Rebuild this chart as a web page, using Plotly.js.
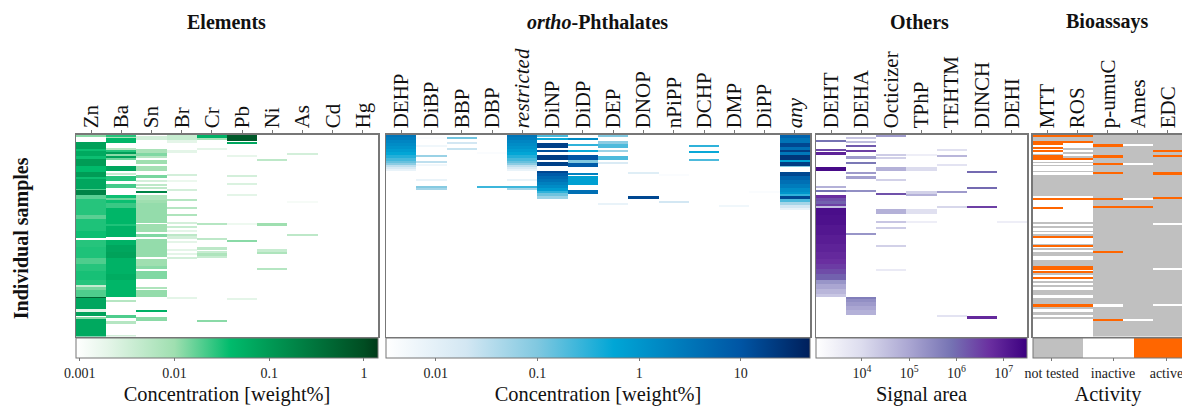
<!DOCTYPE html>
<html><head><meta charset="utf-8">
<script src="https://cdn.plot.ly/plotly-3.0.1.min.js"></script>
<style>html,body{margin:0;padding:0;background:#fff;overflow:hidden;width:1182px;height:407px}
#c{width:1200px;height:407px}
.hm image{filter:blur(.4px)}</style></head>
<body><div id="c"></div>
<script>
const ROWS = 203;
// every run: [first sample row, end row]
const elementNames = ['Zn','Ba','Sn','Br','Cr','Pb','Ni','As','Cd','Hg'];
const Zn = [[0,2,.012],[7,14,.085],[14,16,.035],[16,21,.065],[21,24,.035],[24,31,.095],[31,37,.04],[37,42,.095],[42,44,.035],[44,54,.07],[54,55,.02],[55,60,.2],[60,64,.018],[64,80,.028],[80,84,.018],[84,96,.03],[96,104,.035],[106,113,.028],[113,124,.03],[124,130,.02],[130,137,.028],[137,146,.032],[146,151,.028],[151,153,.004],[153,156,.014],[156,163,.02],[163,164,.5],[164,175,.07],[175,178,.002],[178,182,.08],[183,185,.012],[185,203,.065]];
const Ba = [[0,2,.028],[2,3,.008],[3,8,.045],[13,15,.006],[15,17,.028],[17,19,.09],[19,21,.012],[21,23,.08],[23,25,.015],[31,36,.07],[38,40,.004],[41,46,.028],[49,53,.022],[60,63,.035],[63,65,.015],[65,68,.035],[68,73,.024],[73,89,.045],[89,91,.03],[91,103,.05],[106,111,.05],[111,118,.07],[118,124,.08],[124,140,.05],[140,146,.06],[146,163,.045],[166,168,.006],[181,184,.02],[187,190,.006],[201,203,.003]];
const Sn = [[1,5,.003],[14,18,.008],[18,21,.013],[21,23,.006],[25,29,.01],[31,36,.009],[40,43,.014],[45,47,.003],[49,51,.005],[52,54,.005],[56,58,.2],[60,65,.007],[65,68,.01],[68,88,.011],[89,97,.01],[99,103,.013],[105,123,.011],[125,132,.01],[132,135,.012],[137,145,.013],[153,155,.007],[156,163,.011],[176,178,.05],[183,187,.012]];
const Br = [[0,5,.004],[5,8,.002],[15,18,.002],[39,41,.003],[45,47,.0016],[54,56,.003],[64,66,.006],[72,74,.006],[79,81,.007],[87,89,.003],[91,93,.004],[95,97,.002],[99,102,.005],[102,105,.003],[107,109,.002],[115,117,.002],[119,121,.002],[123,125,.003],[163,165,.002]];
const Cr = [[0,3,.05],[3,5,.008],[13,15,.002],[88,90,.006],[104,106,.005],[113,116,.005],[117,119,.004],[119,122,.007],[122,124,.004],[186,188,.012]];
const Pb = [[0,6,.7],[7,9,.07],[20,22,.0018],[40,42,.003],[48,50,.0025],[59,61,.002],[88,90,.0015],[106,108,.012],[164,166,.002]];
const Ni = [[24,26,.005],[88,91,.01],[115,118,.004],[118,120,.007],[134,136,.006]];
const As = [[18,20,.003],[66,68,.0012],[99,101,.005]];
const Cd = [];
const Hg = [];

const phthalateNames = ['DEHP','DiBP','BBP','DBP','<i>restricted</i>','DiNP','DiDP','DEP','DNOP','nPiPP','DCHP','DMP','DiPP','<i>any</i>'];
const DEHP = [[0,2,3.2],[2,5,2.4],[5,8,1.8],[8,11,1.4],[11,14,1.1],[14,17,.8],[17,20,.55],[20,23,.35],[23,26,.22],[26,28,.14],[28,30,.08],[30,32,.03],[32,34,.016],[34,36,.008]];
const DiBP = [[2,4,.004],[10,12,.006],[20,22,.06],[26,28,.03],[29,31,.006],[44,46,.008],[51,53,.09],[53,55,.05]];
const BBP = [[2,4,.12],[7,9,.02],[13,15,.025]];
const DBP = [[17,19,.004],[51,53,.25]];
const restricted = [[0,2,3.2],[2,5,2.4],[5,8,1.8],[8,11,1.4],[11,14,1.1],[14,17,.8],[17,20,.55],[20,23,.35],[23,26,.22],[26,28,.14],[28,30,.08],[30,32,.03],[32,34,.016],[34,36,.008],[44,46,.008],[51,53,.25],[53,55,.05]];
const DiNP = [[0,2,.2],[3,5,.5],[8,13,18],[15,17,12],[20,25,20],[27,31,18],[36,38,15],[38,41,8],[41,44,5],[44,47,3.5],[47,50,2.2],[50,53,1.4],[53,56,.8],[56,58,.3],[58,61,.13],[61,64,.06]];
const DiDP = [[3,5,1.5],[9,11,.3],[15,17,.5],[20,25,10],[25,28,.1],[28,32,8],[38,40,2],[41,50,.7],[55,59,4]];
const DEP = [[0,2,.1],[6,9,.08],[9,13,.2],[15,17,.06],[21,25,.2],[27,29,.015],[68,70,.008]];
const DNOP = [[37,39,.012],[61,64,15],[71,73,.003]];
const nPiPP = [[39,41,.004],[66,68,.02],[72,74,.002]];
const DCHP = [[10,12,.3],[16,18,.5],[24,26,.2]];
const DMP = [[70,72,.006]];
const DiPP = [[56,58,.004]];
const any = [[0,3,6],[3,8,3.5],[8,12,15],[12,15,4],[15,17,20],[17,20,3],[20,25,25],[25,27,.6],[27,31,20],[31,32,.1],[37,41,15],[41,45,6],[45,49,4],[49,53,2.5],[53,57,1.4],[57,59,1],[59,61,.3],[61,64,15],[64,67,.2],[67,70,.05],[70,73,.02],[73,75,.008]];

const otherNames = ['DEHT','DEHA','Octicizer','TPhP','TEHTM','DINCH','DEHI'];
// log10 of the signal area
const DEHT = [[5,7,5.9],[14,16,6.4],[17,20,6.9],[32,36,7.3],[51,53,4.8],[55,57,5.9],[60,63,6.7],[63,66,6.3],[66,69,6.1],[69,71,6.5],[71,73,4.5],[73,80,7.25],[80,90,7.2],[90,100,7.1],[100,110,7],[110,118,6.9],[118,125,6.8],[125,130,6.7],[130,135,6.55],[135,140,6.35],[140,146,6.1],[146,150,5.3],[150,155,5],[155,160,4.7],[160,163,4.4]];
const DEHA = [[2,4,4.4],[6,8,4.6],[10,12,6.2],[15,17,6.5],[21,24,5.2],[27,29,5.8],[37,39,5.2],[41,44,5.1],[55,57,5.4],[98,100,5.3],[163,165,5.7],[165,168,5.4],[168,172,5.2],[172,176,5.0],[176,181,4.8]];
const Octicizer = [[0,2,5.2],[19,21,4.3],[22,24,4.2],[32,36,4.8],[44,46,4.2],[58,60,6.3],[74,79,4.8],[86,88,4.4],[92,94,4.3],[111,113,4.2],[135,137,3.6]];
const TPhP = [[19,21,3.5],[32,36,4.0],[56,59,4.2],[59,61,4.8],[74,79,3.9],[86,88,3.5]];
const TEHTM = [[14,16,3.9],[20,22,4.7],[29,31,3.8],[56,58,5.2],[71,73,4.1],[181,183,3.8]];
const DINCH = [[36,38,6],[52,54,6],[71,73,6.5],[182,185,6.8]];
const DEHI = [[86,88,3.5]];

const assayNames = ['MTT','ROS','p-umuC','Ames','EDC'];
// 0 not tested, 1 inactive, 2 active; rows not listed are 0
const stripes = [[63,65,2],[65,72,1],[74,87,1],[89,91,1],[93,96,1],[97,99,1],[102,104,2],[104,110,1],[111,113,2],[113,114,1],[116,118,1],[122,126,1],[132,136,2],[136,137,1],[137,139,2],[141,143,1],[143,145,2],[145,147,1],[149,151,1],[153,156,1],[161,164,1],[170,173,2],[175,178,1],[181,183,1],[185,203,1]];
const MTT = [[0,2,2],[6,8,2],[8,10,2],[10,12,1],[12,14,2],[14,15,1],[15,17,2],[17,19,1],[20,23,2],[23,25,2],[25,27,1],[28,30,1],[31,36,1],[37,40,1],[61,63,1],[72,74,2]].concat(stripes);
const ROS = [[0,2,2],[6,8,2],[8,13,1],[15,17,1],[19,21,1],[23,25,2],[25,27,1],[28,30,1],[31,36,1],[37,40,1],[61,63,1],[72,74,1]].concat(stripes);
const pumuC = [[9,12,2],[20,23,2],[28,30,2],[37,39,2],[63,65,2],[71,73,2],[117,119,2],[170,173,1],[185,187,2]];
const Ames = [[9,11,1],[28,30,1],[63,65,1],[71,73,2],[185,187,1]];
const EDC = [[15,17,2],[20,22,2],[37,40,2],[62,64,2],[88,90,1],[134,136,1],[170,172,1]];

// colour scales: [value, colour]
const greenStops = [[-3.04,'#ffffff'],[-2.7,'#e4f5e8'],[-2,'#9fdfb0'],[-1.41,'#00bb6c'],[-1,'#009a55'],[0,'#004d22'],[0.148,'#003a18']];
const blueStops = [[-2.49,'#ffffff'],[-1.7,'#d3e7f3'],[-1,'#80c8e0'],[-0.25,'#00a6d6'],[1,'#0055a4'],[1.68,'#001f5b']];
const purpleStops = [[3.03,'#ffffff'],[4,'#dcdcee'],[5,'#aaa6d2'],[5.9,'#7572b3'],[6.7,'#6a2fa0'],[7.49,'#3c0080']];
const assayStops = [[-.5,'#c0c0c0'],[.5,'#c0c0c0'],[.5,'#ffffff'],[1.5,'#ffffff'],[1.5,'#ff6600'],[2.5,'#ff6600']];

const lineC = '#777777';
const serif = '"Liberation Serif","Times New Roman",serif';
const W = 1200, H = 407;
function grid(cols, f, blank){
  const z = [];
  for(let r=0;r<ROWS;r++) z.push(cols.map(()=>blank));
  cols.forEach((runs,c)=>runs.forEach(([a,b,v])=>{for(let r=a;r<b&&r<ROWS;r++) z[r][c]=f(v);}));
  return z;
}
function scale(st){const a=st[0][0],b=st[st.length-1][0];return st.map(([v,c])=>[(v-a)/(b-a),c]);}
const panels = [
 {names:elementNames,cols:[Zn,Ba,Sn,Br,Cr,Pb,Ni,As,Cd,Hg],f:Math.log10,stops:greenStops,x0:76,x1:378,blank:null,
  cb:{tickvals:[-3,-2,-1,0],ticktext:['0.001','0.01','0.1','1'],title:'Concentration [weight%]'}},
 {names:phthalateNames,cols:[DEHP,DiBP,BBP,DBP,restricted,DiNP,DiDP,DEP,DNOP,nPiPP,DCHP,DMP,DiPP,any],f:Math.log10,stops:blueStops,x0:386,x1:810,blank:null,
  cb:{tickvals:[-2,-1,0,1],ticktext:['0.01','0.1','1','10'],title:'Concentration [weight%]'}},
 {names:otherNames,cols:[DEHT,DEHA,Octicizer,TPhP,TEHTM,DINCH,DEHI],f:v=>v,stops:purpleStops,x0:816,x1:1027,blank:null,
  cb:{tickvals:[4,5,6,7],ticktext:['10<sup>4</sup>','10<sup>5</sup>','10<sup>6</sup>','10<sup>7</sup>'],title:'Signal area'}},
 {names:assayNames,cols:[MTT,ROS,pumuC,Ames,EDC],f:v=>v,stops:assayStops,x0:1032.5,x1:1183,blank:0,
  cb:{tickvals:[-.12,1.1,2.16],ticktext:['not tested','inactive','active'],title:'Activity'}}
];
const traces=[], layout={width:W,height:H,margin:{l:0,r:0,t:0,b:0},paper_bgcolor:'#fff',plot_bgcolor:'#fff',
  font:{family:serif,color:'#111'},showlegend:false,annotations:[]};
panels.forEach((p,i)=>{
  const n=i?String(i+1):'';
  const st=p.stops;
  traces.push({type:'heatmap',xaxis:'x'+n,yaxis:'y'+n,z:grid(p.cols,p.f,p.blank),
    x:p.names.map((_,k)=>k),y:Array.from({length:ROWS},(_,k)=>k),
    zmin:st[0][0],zmax:st[st.length-1][0],colorscale:scale(st),hoverinfo:'skip',
    colorbar:{orientation:'h',x:p.x0/W,xanchor:'left',y:1-341/H,yanchor:'top',lenmode:'pixels',len:p.x1-p.x0,
      thicknessmode:'pixels',thickness:20,xpad:0,ypad:0,outlinecolor:lineC,outlinewidth:1,
      tickmode:'array',tickvals:p.cb.tickvals,ticktext:p.cb.ticktext,ticks:'outside',ticklen:3,tickcolor:lineC,
      tickfont:{family:serif,size:14,color:'#222'},
      title:{text:p.cb.title,side:'bottom',font:{family:serif,size:20.4,color:'#111'}}}});
  layout['xaxis'+n]={domain:[p.x0/W,p.x1/W],anchor:'y'+n,side:'top',range:[-.5,p.names.length-.5],
    tickmode:'array',tickvals:p.names.map((_,k)=>k),ticktext:p.names,tickangle:-90,ticks:'outside',ticklen:3,
    ticklabelstandoff:-2,
    tickcolor:lineC,tickfont:{family:serif,size:21,color:'#111'},showgrid:false,zeroline:false,
    showline:true,linecolor:lineC,linewidth:1.5,mirror:'allticks',fixedrange:true};
  layout['yaxis'+n]={domain:[1-339/H,1-136/H],anchor:'x'+n,range:[ROWS-.5,-.5],showticklabels:false,ticks:'',
    showgrid:false,zeroline:false,showline:true,linecolor:lineC,linewidth:1.5,mirror:true,fixedrange:true};
});
const heads=[['Elements',226],['<i>ortho</i>-Phthalates',597],['Others',919],['Bioassays',1107]];
heads.forEach(([t,x])=>layout.annotations.push({text:'<b>'+t+'</b>',xref:'paper',yref:'paper',x:x/W,y:1-22/H,
  xanchor:'center',yanchor:'middle',showarrow:false,font:{family:serif,size:20,color:'#111'}}));
layout.annotations.push({text:'<b>Individual samples</b>',xref:'paper',yref:'paper',x:21/W,y:1-240/H,textangle:-90,
  xanchor:'center',yanchor:'middle',showarrow:false,font:{family:serif,size:20,color:'#111'}});
Plotly.newPlot('c',traces,layout,{displayModeBar:false,staticPlot:true});
</script></body></html>
